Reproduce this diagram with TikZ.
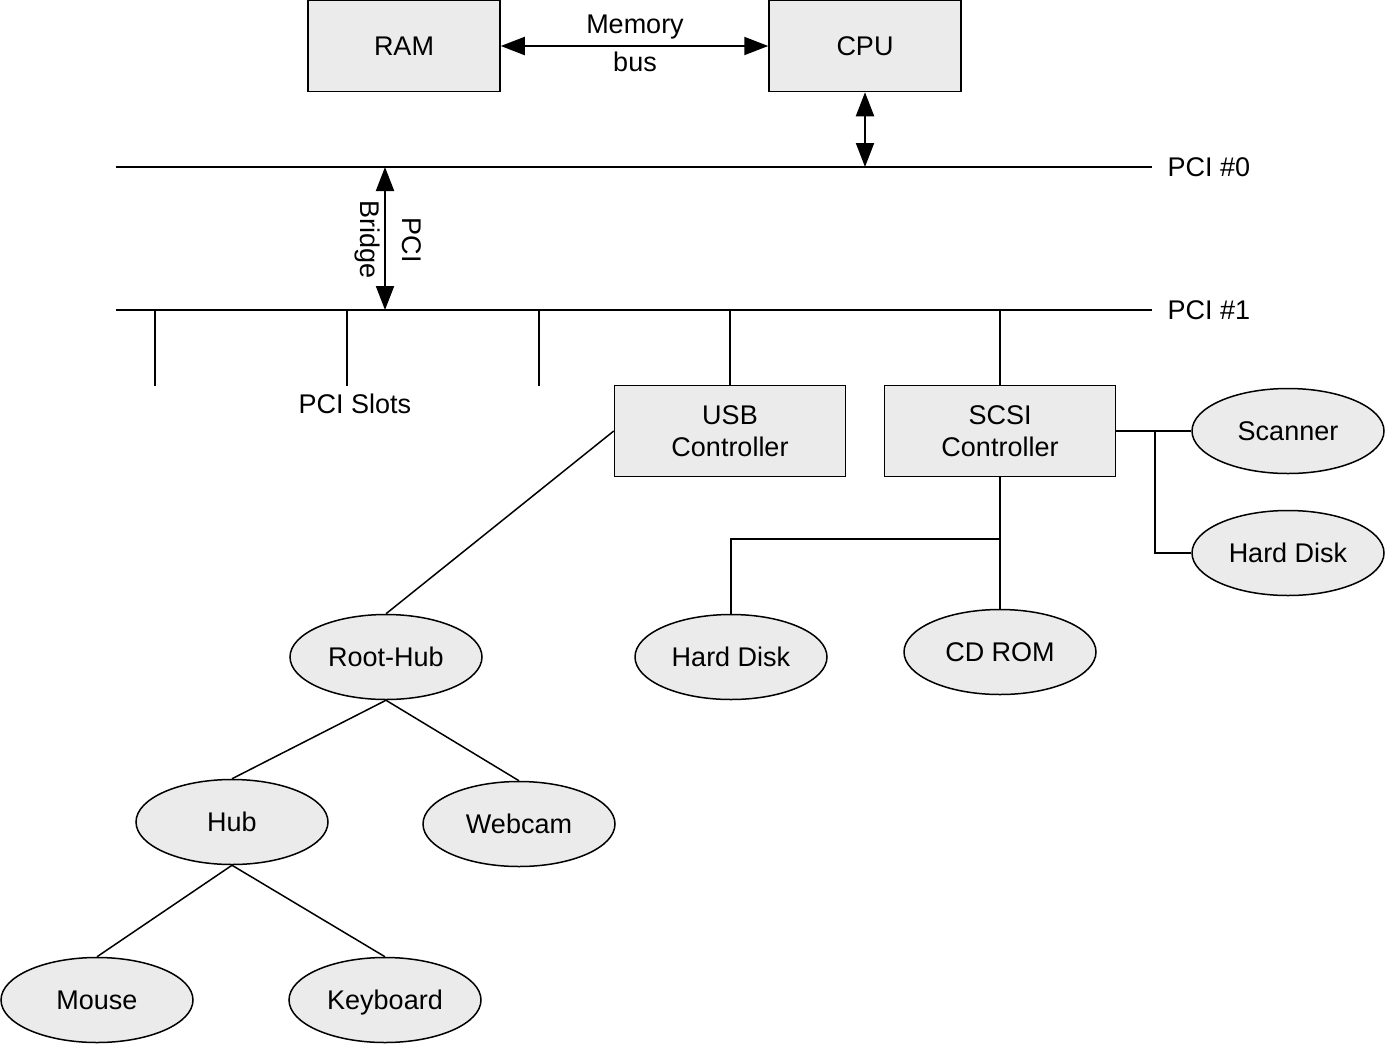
\documentclass[tikz,border=0pt]{standalone}
\usepackage{fontspec}
\setmainfont{Liberation Sans}
\usetikzlibrary{shapes.geometric,arrows.meta}
\definecolor{boxgray}{RGB}{235,235,235}
\begin{document}
\begin{tikzpicture}[x=1pt,y=-1pt,
 every node/.style={font=\fontsize{27}{32}\selectfont},
 box/.style={draw, fill=boxgray, line width=1.5pt, minimum width=192pt, minimum height=91pt, inner sep=0pt, align=center},
 dev/.style={draw, ellipse, fill=boxgray, line width=1.5pt, minimum width=192pt, minimum height=85pt, inner sep=0pt, align=center, text height=19.5pt, text depth=0pt},
 bus/.style={line width=2pt},
 link/.style={line width=1.5pt},
 dbl/.style={line width=2pt, {Triangle[length=24pt,width=18pt]}-{Triangle[length=24pt,width=18pt]}}]
\useasboundingbox (0,0) rectangle (1385,1045);
% top boxes
\node[box] (ram) at (404,46) {RAM};
\node[box] (cpu) at (865,46) {CPU};
\draw[dbl] (ram) -- (cpu);
\node[anchor=base] (memlbl) at (635,33) {Memory};
\node[anchor=base] (buslbl) at (635,71) {bus};
% PCI buses
\coordinate (p0w) at (116,167);
\coordinate (p0e) at (1152,167);
\coordinate (p1w) at (116,310);
\coordinate (p1e) at (1152,310);
\draw[bus] (p0w) -- (p0e);
\draw[bus] (p1w) -- (p1e);
\node[anchor=west] (pci0) at (1164,167) {PCI \#0};
\node[anchor=west] (pci1) at (1164,310) {PCI \#1};
\draw[dbl] (cpu.south) -- (cpu.south |- p0w);
% bridge
\coordinate (br0) at (385,167);
\coordinate (br1) at (385,310);
\draw[dbl] (br0) -- (br1);
\node[rotate=-90, align=center, font=\fontsize{27}{42}\selectfont] (bridge) at (388,240) {PCI\\Bridge};
% slots
\foreach \i/\x in {1/155,2/347,3/539}{
  \coordinate (s\i t) at (\x,310);
  \coordinate (s\i b) at (\x,386);
  \draw[link] (s\i t) -- (s\i b);
}
\node (slots) at (355,404) {PCI Slots};
% controllers
\node[box, minimum width=231pt] (usb) at (730,431) {USB\\Controller};
\node[box, minimum width=231pt] (scsi) at (1000,431) {SCSI\\Controller};
\draw[link] (usb.north) -- (usb.north |- p1w);
\draw[link] (scsi.north) -- (scsi.north |- p1w);
% devices
\node[dev] (scanner) at (1288,431) {Scanner};
\node[dev] (hdr) at (1288,553) {Hard Disk};
\node[dev] (hdl) at (731,657) {Hard Disk};
\node[dev] (cdrom) at (1000,652) {CD ROM};
\node[dev] (roothub) at (386,657) {Root-Hub};
\node[dev] (hub) at (232,822) {Hub};
\node[dev] (webcam) at (519,824) {Webcam};
\node[dev] (mouse) at (97,1000) {Mouse};
\node[dev] (keyboard) at (385,1000) {Keyboard};
% SCSI links
\draw[link] (scsi.east) -- (scanner.west);
\coordinate (jr) at (1155,431);
\draw[link] (jr) |- (hdr.west);
\draw[link] (scsi.south) -- (cdrom.north);
\coordinate (jb) at (1000,539);
\draw[link] (jb) -| (hdl.north);
% USB tree
\draw[link] (usb.west) -- (roothub.north);
\draw[link] (roothub.south) -- (hub.north);
\draw[link] (roothub.south) -- (webcam.north);
\draw[link] (hub.south) -- (mouse.north);
\draw[link] (hub.south) -- (keyboard.north);
\end{tikzpicture}
\end{document}
